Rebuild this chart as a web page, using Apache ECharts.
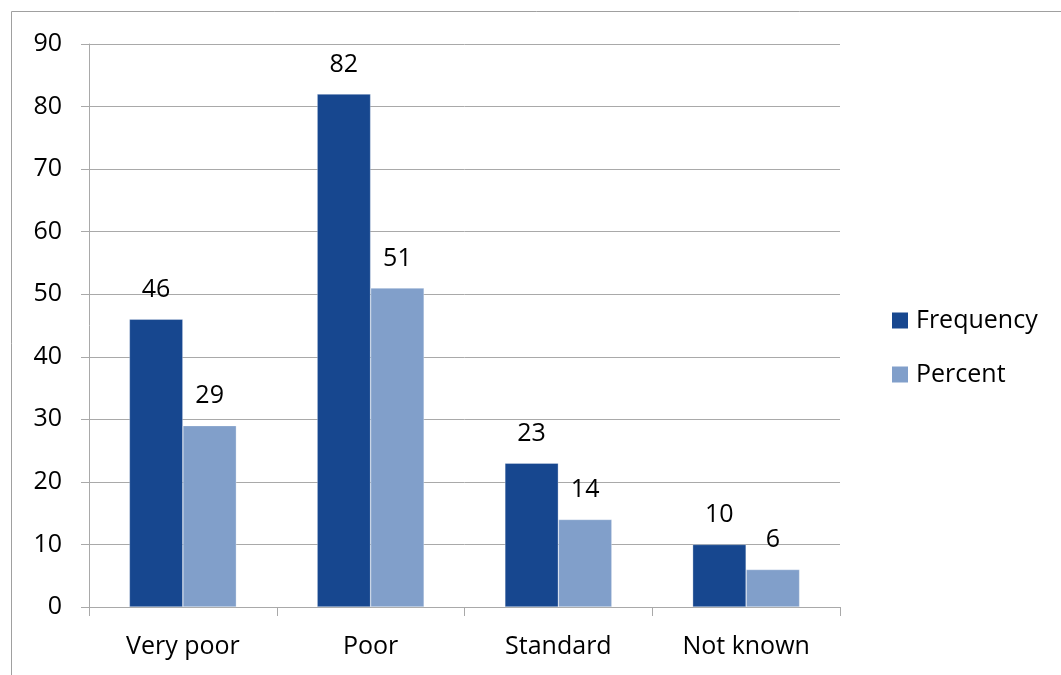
<!DOCTYPE html>
<html>
<head>
<meta charset="utf-8">
<script src="https://cdn.jsdelivr.net/npm/echarts@6/dist/echarts.min.js"></script>
<style>
  html, body { margin: 0; padding: 0; background: #fff; }
  #chart { width: 1061px; height: 675px; }
</style>
</head>
<body>
<div id="chart"></div>
<script>
// Condition ratings: counts and share of total
const categories = ['Very poor', 'Poor', 'Standard', 'Not known'];
const frequency = [46, 82, 23, 10];
const percent = [29, 51, 14, 6];
const yTicks = { min: 0, max: 90, interval: 10 };

const FONT = '"Open Sans", "Noto Sans", sans-serif';
const FONT_SIZE = 25;
const TEXT = '#000';
const GRID_GRAY = '#a9a9a9';

const chart = echarts.init(document.getElementById('chart'), null, { renderer: 'canvas' });

const barLabel = {
  show: true,
  position: 'top',
  distance: 17,
  color: TEXT,
  fontFamily: FONT,
  fontSize: FONT_SIZE
};

chart.setOption({
  animation: false,
  backgroundColor: '#fff',
  graphic: [{
    type: 'rect',
    shape: { x: 11.5, y: 11.5, width: 1100, height: 700 },
    style: { fill: 'none', stroke: '#a0a0a0', lineWidth: 1 },
    silent: true
  }],
  grid: { left: 89, right: 221, top: 44, bottom: 68, containLabel: false },
  legend: {
    orient: 'vertical',
    left: 887,
    top: 303,
    itemWidth: 16,
    itemHeight: 16,
    itemGap: 29,
    itemStyle: { borderWidth: 0 },
    icon: 'rect',
    textStyle: { color: TEXT, fontFamily: FONT, fontSize: FONT_SIZE, padding: [0, 0, 0, 3] },
    data: ['Frequency', 'Percent']
  },
  xAxis: {
    type: 'category',
    data: categories,
    axisLine: { show: true, lineStyle: { color: GRID_GRAY, width: 1 } },
    axisTick: { show: true, length: 9, alignWithLabel: false, lineStyle: { color: GRID_GRAY } },
    axisLabel: { color: TEXT, fontFamily: FONT, fontSize: FONT_SIZE, margin: 27 },
    splitLine: { show: false }
  },
  yAxis: {
    type: 'value',
    min: yTicks.min,
    max: yTicks.max,
    interval: yTicks.interval,
    axisLine: { show: true, lineStyle: { color: GRID_GRAY, width: 1 } },
    axisTick: { show: true, length: 8, lineStyle: { color: GRID_GRAY } },
    axisLabel: { color: TEXT, fontFamily: FONT, fontSize: FONT_SIZE, margin: 27 },
    splitLine: { show: true, lineStyle: { color: GRID_GRAY, width: 1 } }
  },
  series: [
    {
      name: 'Frequency',
      type: 'bar',
      data: frequency,
      barGap: '0%',
      barCategoryGap: '43%',
      itemStyle: { color: '#17478f', borderColor: 'rgba(255,255,255,0.5)', borderWidth: 0.6 },
      label: barLabel
    },
    {
      name: 'Percent',
      type: 'bar',
      data: percent,
      barGap: '0%',
      barCategoryGap: '43%',
      itemStyle: { color: '#819fca', borderColor: 'rgba(255,255,255,0.5)', borderWidth: 0.6 },
      label: barLabel
    }
  ]
});
</script>
</body>
</html>
